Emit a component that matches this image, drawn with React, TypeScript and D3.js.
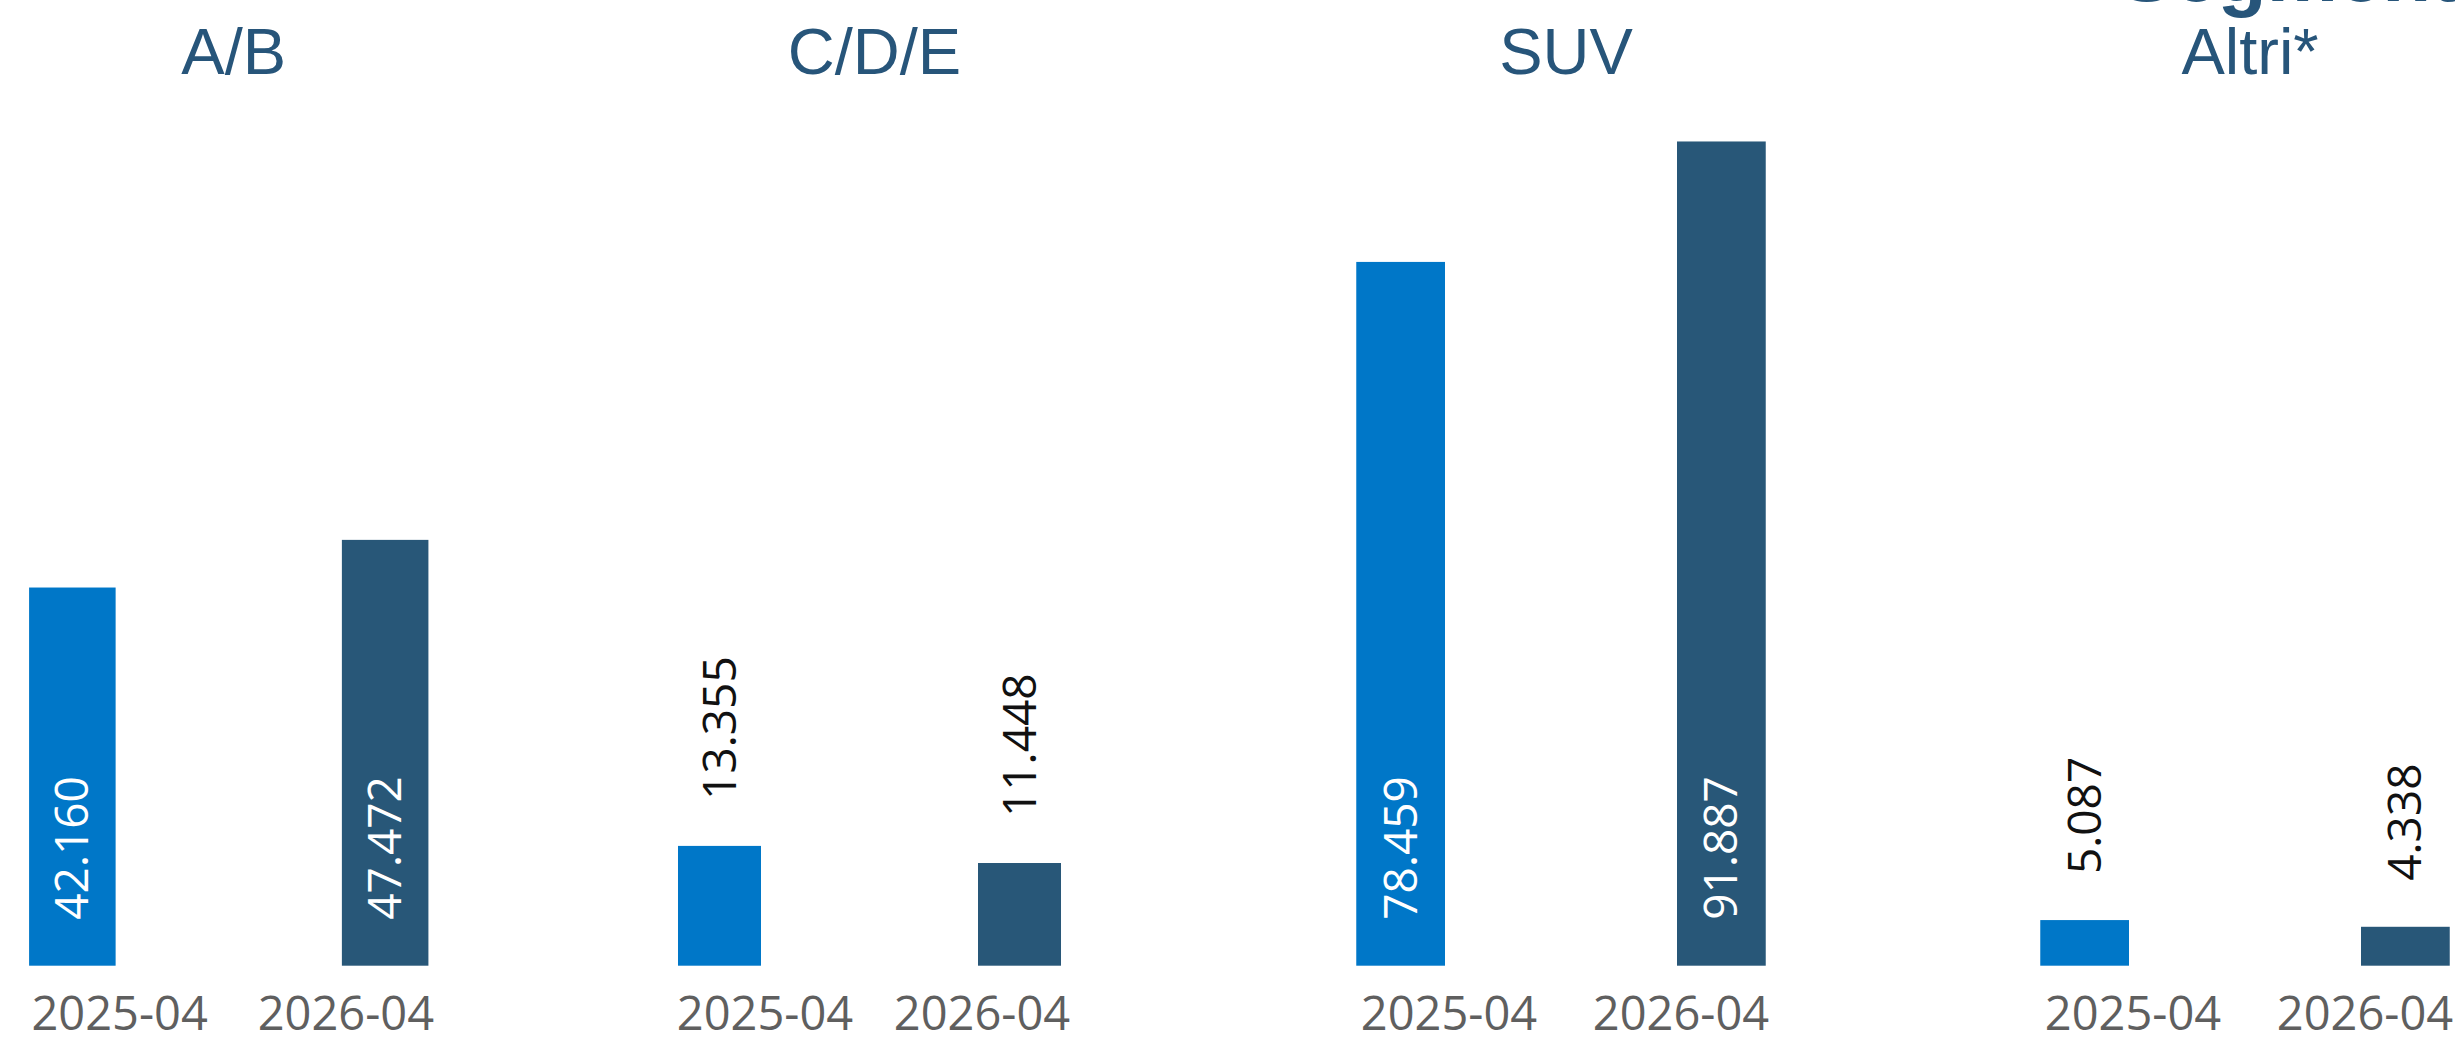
import React from "react";
import * as d3 from "d3";

// ---- data ----
const categories = ["A/B", "C/D/E", "SUV", "Altri*"];
const periods = ["2025-04", "2026-04"];
const seriesKeys = ["2025", "2026"];
const values2025 = [42160, 13355, 78459, 5087];
const values2026 = [47472, 11448, 91887, 4338];
const mainTitle = "Segmento";

// ---- layout ----
const W = 2455;
const H = 1039;
const panelRanges: [number, number][] = [
  [2.5, 455],
  [652.5, 1086.5],
  [1329, 1793],
  [2013, 2477],
];
const baseline = 965.7;
const colors = ["#0077C8", "#285778"];
const titleColor = "#27557A";
const labelFont = "'Open Sans', 'Noto Sans', sans-serif";
const titleFont = "'Liberation Sans', Arial, sans-serif";

const locale = d3.formatLocale({
  decimal: ",",
  thousands: ".",
  grouping: [3],
  currency: ["€", ""],
});
const fmt = locale.format(",d");

export default function App() {
  const y = d3.scaleLinear().domain([0, 100000]).range([baseline, 68.7]);
  const seriesValues = [values2025, values2026];

  return (
    <svg
      width={W}
      height={H}
      style={{ position: "absolute", left: 0, top: 0, display: "block", background: "#fff" }}
    >
      <text
        x={2120}
        y={1}
        fontFamily={titleFont}
        fontWeight="bold"
        fontSize={80}
        fill={titleColor}
      >
        {mainTitle}
      </text>
      {categories.map((cat, ci) => {
        const x = d3
          .scaleBand<string>()
          .domain(periods)
          .range(panelRanges[ci])
          .paddingInner(0.235)
          .paddingOuter(0.1175);
        const xs = d3
          .scaleBand<string>()
          .domain(seriesKeys)
          .range([0, x.bandwidth()])
          .padding(0);
        const center = (panelRanges[ci][0] + panelRanges[ci][1]) / 2;
        return (
          <g key={cat}>
            <text
              x={center + 5}
              y={74}
              textAnchor="middle"
              fontFamily={titleFont}
              fontSize={65}
              fill={titleColor}
            >
              {cat}
            </text>
            {periods.map((p, pi) => {
              const s = seriesKeys[pi];
              const v = seriesValues[pi][ci];
              const bx = (x(p) as number) + (xs(s) as number);
              const bw = xs.bandwidth();
              const top = y(v);
              const cx = bx + bw / 2;
              const inside = baseline - top > 250;
              const ly = inside ? baseline - 46 : top - 46;
              return (
                <g key={p}>
                  <rect x={bx} y={top} width={bw} height={baseline - top} fill={colors[pi]} />
                  <text
                    transform={`translate(${cx},${ly}) rotate(-90)`}
                    dy="0.35em"
                    textAnchor="start"
                    fontFamily={labelFont}
                    fontSize={46}
                    fill={inside ? "#ffffff" : "#111111"}
                  >
                    {fmt(v)}
                  </text>
                  <text
                    x={(x(p) as number) + x.bandwidth() / 2 + 4}
                    y={1030}
                    textAnchor="middle"
                    fontFamily={labelFont}
                    fontSize={47}
                    fill="#5F5F5F"
                  >
                    {p}
                  </text>
                </g>
              );
            })}
          </g>
        );
      })}
    </svg>
  );
}
